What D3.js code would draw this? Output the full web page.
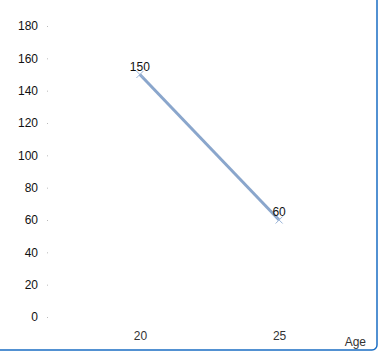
<!DOCTYPE html>
<html>
<head>
<meta charset="utf-8">
<script src="https://cdn.jsdelivr.net/npm/d3@7"></script>
<style>
  body { margin: 0; background: #fff; }
  text { font-family: "Liberation Sans", Arial, sans-serif; }
</style>
</head>
<body>
<div id="chart"></div>
<script>
// chart data
const ages = [20, 25];
const values = [150, 60];
const yTicks = [0, 20, 40, 60, 80, 100, 120, 140, 160, 180];

const width = 379;
const height = 353;
const margin = { top: 26, right: 8, bottom: 36, left: 48 };

const svg = d3.select('#chart')
    .append('svg')
    .attr('width', width)
    .attr('height', height);

// panel border (top/left edges sit outside the view)
svg.append('rect')
    .attr('x', -10)
    .attr('y', -10)
    .attr('width', 387)
    .attr('height', 360)
    .attr('rx', 5)
    .attr('fill', '#fff')
    .attr('stroke', '#1a6ec4')
    .attr('stroke-width', 1.5);

const xScale = d3.scalePoint()
    .domain(ages)
    .range([margin.left, width - margin.right])
    .padding(0.66);

const yScale = d3.scaleLinear()
    .domain([0, 180])
    .range([height - margin.bottom, margin.top]);

const yAxis = d3.axisLeft(yScale)
    .tickValues(yTicks)
    .tickSize(1)
    .tickPadding(9);

const gy = svg.append('g')
    .attr('transform', `translate(${margin.left},0)`)
    .call(yAxis);
gy.select('.domain').remove();
gy.selectAll('line').attr('stroke', '#bbb');
gy.selectAll('text')
    .attr('fill', '#111')
    .style('font-size', '12px');

const xAxis = d3.axisBottom(xScale)
    .tickSize(0)
    .tickPadding(14);

const gx = svg.append('g')
    .attr('transform', `translate(0,${height - margin.bottom})`)
    .call(xAxis);
gx.select('.domain').remove();
gx.selectAll('text')
    .attr('fill', '#333')
    .style('font-size', '12px');

svg.append('text')
    .attr('x', 366)
    .attr('y', 346)
    .attr('fill', '#333')
    .style('font-size', '12px')
    .style('text-anchor', 'end')
    .text('Age');

const pts = ages.map((a, i) => ({ age: a, value: values[i] }));

const line = d3.line()
    .x(d => xScale(d.age))
    .y(d => yScale(d.value));

svg.append('path')
    .datum(pts)
    .attr('d', line)
    .attr('fill', 'none')
    .attr('stroke', '#8aa6cc')
    .attr('stroke-width', 3);

// x markers
const m = svg.selectAll('.marker')
    .data(pts)
    .enter()
    .append('path')
    .classed('marker', true)
    .attr('d', d => {
        const x = xScale(d.age), y = yScale(d.value), s = 3.5;
        return `M${x - s},${y - s}L${x + s},${y + s}M${x - s},${y + s}L${x + s},${y - s}`;
    })
    .attr('stroke', '#9ab4d8')
    .attr('stroke-width', 1);

svg.selectAll('.label')
    .data(pts)
    .enter()
    .append('text')
    .classed('label', true)
    .attr('x', d => xScale(d.age))
    .attr('y', d => yScale(d.value) - 4)
    .attr('fill', '#111')
    .style('font-size', '12px')
    .style('text-anchor', 'middle')
    .text(d => d.value);
</script>
</body>
</html>
